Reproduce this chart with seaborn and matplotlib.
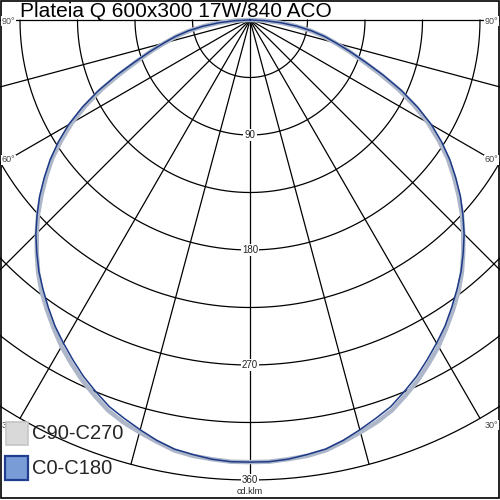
import numpy as np
import pandas as pd
import matplotlib
matplotlib.use("Agg")
import matplotlib.pyplot as plt
import seaborn as sns
from matplotlib.patches import Rectangle

title = "Plateia Q 600x300 17W/840 ACO"
unit = "cd.klm"

# gamma angles (deg) and intensities (cd/klm)
gamma = [0, 2.5, 5, 7.5, 10, 12.5, 15, 17.5, 20, 22.5, 25, 27.5, 30, 32.5, 35, 37.5,
         40, 42.5, 45, 47.5, 50, 52.5, 55, 57.5, 60, 62.5, 65, 67.5, 70, 72.5, 75,
         77.5, 80, 82.5, 85, 87.5, 90]
c0_c180 = [346, 346, 345, 343, 341, 337, 332, 327, 322, 315, 308, 300, 292, 284, 275, 266,
           257, 247, 237, 226, 215, 203, 191, 178, 164, 148, 131, 113, 96, 82, 70,
           60, 49, 37, 24, 12, 0]
c90_c270 = [346, 346, 345, 344, 342, 338, 334, 330, 325, 318, 311, 303, 295, 286, 277, 268,
            258, 247, 236, 225, 213, 201, 189, 175, 161, 145, 128, 110, 94, 81, 69,
            59, 48, 36, 24, 12, 0]

ring_step = 45
ring_max = 360
ring_labels = [90, 180, 270, 360]
ray_step = 15
angle_labels = ["90°", "60°", "30°"]

sns.set_style("white")
plt.rcParams["font.family"] = ["Liberation Sans", "DejaVu Sans"]

fig = plt.figure(figsize=(5, 5), dpi=100)
ax = fig.add_axes([0, 0, 1, 1])
k = 360 / 460
ax.set_xlim(-250 * k, 250 * k)
ax.set_ylim(480 * k, -20 * k)
ax.axis("off")


def to_xy(g, r):
    g = np.radians(g)
    return r * np.sin(g), r * np.cos(g)


# grid: rings and rays
t = np.linspace(-90, 90, 361)
for r in range(ring_step, ring_max + 1, ring_step):
    x, y = to_xy(t, r)
    ax.plot(x, y, color="black", lw=0.9, zorder=1)
for a in range(-90, 91, ray_step):
    x, y = to_xy(np.array([a, a]), np.array([0, ring_max]))
    ax.plot(x, y, color="black", lw=0.9, zorder=1)


# curves (mirror each half plane)
def full_curve(vals, name):
    g = np.array(gamma, dtype=float)
    v = np.array(vals, dtype=float)
    gg = np.concatenate([-g[::-1], g[1:]])
    vv = np.concatenate([v[::-1], v[1:]])
    x, y = to_xy(gg, vv)
    return pd.DataFrame({"x": x, "y": y, "plane": name})

df = pd.concat([full_curve(c90_c270, "C90-C270"), full_curve(c0_c180, "C0-C180")])
sns.lineplot(data=df[df.plane == "C90-C270"], x="x", y="y", sort=False, ax=ax,
             color="#adb7c9", lw=3.2, estimator=None, legend=False, zorder=3)
sns.lineplot(data=df[df.plane == "C0-C180"], x="x", y="y", sort=False, ax=ax,
             color="#1c3a88", lw=1.1, estimator=None, legend=False, zorder=4)

# ring labels
for r in ring_labels:
    ax.text(0, r, str(r), ha="center", va="center", fontsize=7, color="#222222",
            bbox=dict(fc="white", ec="none", pad=1.0), zorder=5)
ax.text(0, 472 * k, unit, ha="center", va="center", fontsize=6.5, color="#222222", zorder=5)

# angle labels on the frame edges
lab = dict(fontsize=6.5, color="#444444", va="center")
box = dict(fc="white", ec="none", pad=0.5)
fig.text(0.004, 0.958, angle_labels[0], ha="left", bbox=box, **lab)
fig.text(0.996, 0.958, angle_labels[0], ha="right", bbox=box, **lab)
fig.text(0.004, 0.68, angle_labels[1], ha="left", bbox=box, **lab)
fig.text(0.996, 0.68, angle_labels[1], ha="right", bbox=box, **lab)
fig.text(0.004, 0.15, angle_labels[2], ha="left", **lab)
fig.text(0.996, 0.15, angle_labels[2], ha="right", bbox=box, **lab)

# title
fig.text(0.04, 0.966, title, fontsize=15, va="baseline", ha="left", color="black")

# legend boxes
fig.patches.append(Rectangle((0.012, 0.11), 0.044, 0.046, transform=fig.transFigure,
                             fc="#d9d9d9", ec="#c6c6c6", lw=1.2, zorder=6))
fig.patches.append(Rectangle((0.010, 0.04), 0.046, 0.048, transform=fig.transFigure,
                             fc="#7a9cd6", ec="#1f3e8f", lw=1.6, zorder=6))
fig.text(0.064, 0.133, "C90-C270", fontsize=14.5, va="center", ha="left")
fig.text(0.064, 0.063, "C0-C180", fontsize=14.5, va="center", ha="left")

# outer frame
fig.patches.append(Rectangle((0.001, 0.005), 0.996, 0.993, transform=fig.transFigure,
                             fill=False, ec="black", lw=1.2))

fig.savefig("out.png", dpi=100)
